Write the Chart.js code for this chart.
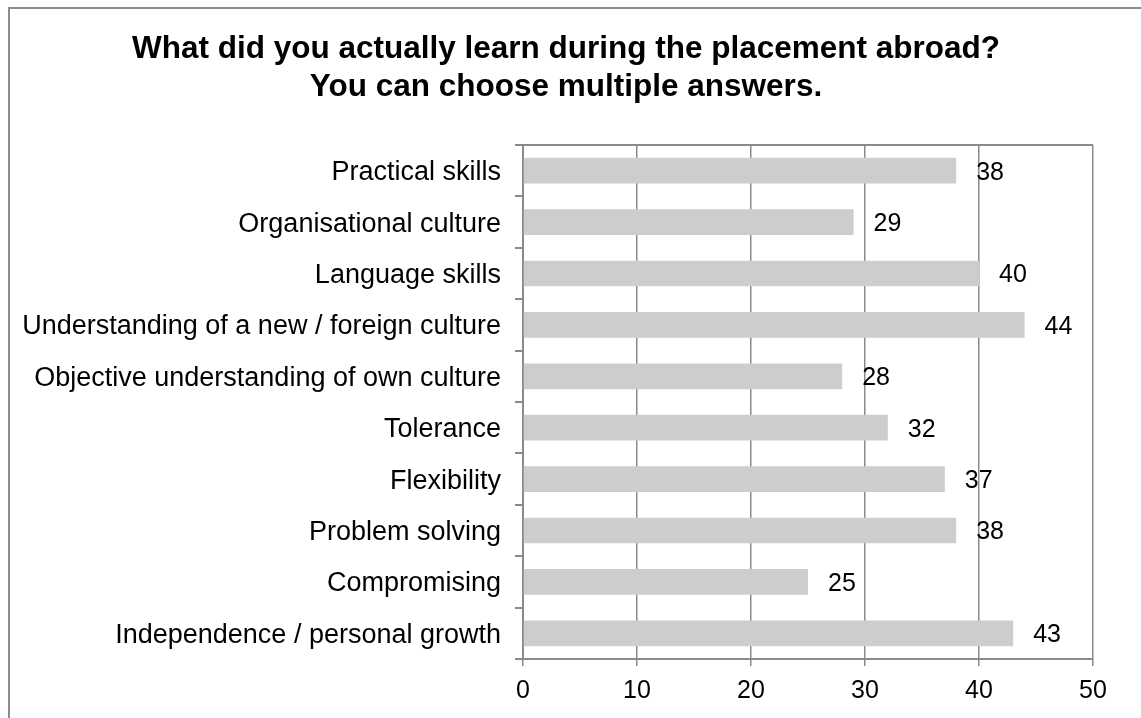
<!DOCTYPE html>
<html lang="en">

<head>
  <meta charset="UTF-8" />
  <title>Placement abroad</title>
  <style>
    body { margin: 0; overflow: hidden; background: #fff; }
    #frame {
      position: absolute; left: 8px; top: 7px; width: 1200px; height: 800px;
      border-left: 2px solid #8c8c8c; border-top: 2px solid #8c8c8c;
    }
    #wrap { position: absolute; left: 0; top: 0; width: 1141px; height: 718px; }
  </style>
</head>

<body>
  <div id="frame"></div>
  <div id="wrap"><canvas id="myChart" width="1141" height="718"></canvas></div>

  <script src="https://cdn.jsdelivr.net/npm/chart.js"></script>

  <script>
    const categories = [
      "Practical skills",
      "Organisational culture",
      "Language skills",
      "Understanding of a new / foreign culture",
      "Objective understanding of own culture",
      "Tolerance",
      "Flexibility",
      "Problem solving",
      "Compromising",
      "Independence / personal growth",
    ];
    const answers = [38, 29, 40, 44, 28, 32, 37, 38, 25, 43];
    const xTicks = [0, 10, 20, 30, 40, 50];

    const titleLines = [
      "What did you actually learn during the placement abroad?",
      "You can choose multiple answers.",
    ];

    const axisGrey = "#8a8a8a";
    const fontFam = "'Liberation Sans', Arial, sans-serif";
    Chart.defaults.font.family = fontFam;
    Chart.defaults.color = "#000";

    // title drawn by hand: centred on the framed area, not the canvas
    const chartTitle = {
      id: "chartTitle",
      afterDraw(chart) {
        const c = chart.ctx;
        c.save();
        c.font = "bold 31.5px " + fontFam;
        c.fillStyle = "#000";
        c.textAlign = "center";
        c.textBaseline = "middle";
        c.fillText(titleLines[0], 566, 49);
        c.fillText(titleLines[1], 566, 87);
        c.restore();
      },
    };

    // value labels to the right of each bar
    const valueLabels = {
      id: "valueLabels",
      afterDatasetsDraw(chart) {
        const c = chart.ctx;
        const meta = chart.getDatasetMeta(0);
        c.save();
        c.font = "25px " + fontFam;
        c.fillStyle = "#000";
        c.textAlign = "left";
        c.textBaseline = "middle";
        meta.data.forEach((bar, i) => {
          c.fillText(answers[i], bar.x + 20, bar.y + 2);
        });
        c.restore();
      },
    };

    const ctx = document.getElementById("myChart");

    new Chart(ctx, {
      type: "bar",
      data: {
        labels: categories,
        datasets: [
          {
            data: answers,
            backgroundColor: "#cdcdcd",
            barPercentage: 0.5,
            categoryPercentage: 1.0,
          },
        ],
      },
      options: {
        indexAxis: "y",
        responsive: false,
        animation: false,
        layout: { padding: { left: 0, right: 48, top: 145, bottom: 0 } },
        plugins: {
          legend: { display: false },
          tooltip: { enabled: false },
          title: { display: false },
        },
        scales: {
          x: {
            min: 0,
            max: 50,
            afterBuildTicks: (scale) => {
              scale.ticks = xTicks.map((v) => ({ value: v }));
            },
            afterFit: (scale) => {
              scale.height = 59;
            },
            grid: {
              color: axisGrey,
              lineWidth: 1.5,
              tickLength: 7,
              tickColor: axisGrey,
            },
            border: { color: axisGrey, width: 2 },
            ticks: { font: { size: 25 }, padding: 10, color: "#000" },
          },
          y: {
            afterFit: (scale) => {
              scale.width = 523;
            },
            grid: {
              offset: true,
              color: (c) => (c.index === 0 ? axisGrey : "rgba(0,0,0,0)"),
              lineWidth: 2,
              tickLength: 8,
              tickColor: axisGrey,
            },
            border: { color: axisGrey, width: 2 },
            ticks: { font: { size: 27 }, padding: 14, labelOffset: 2, color: "#000" },
          },
        },
      },
      plugins: [valueLabels, chartTitle],
    });
  </script>
</body>

</html>
